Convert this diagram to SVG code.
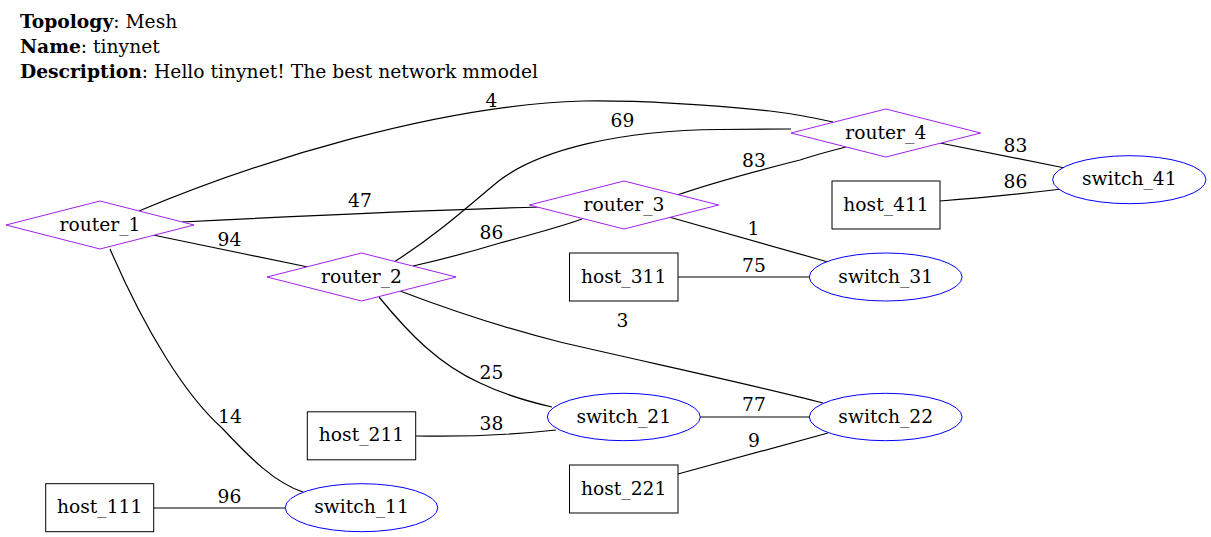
<svg xmlns="http://www.w3.org/2000/svg" width="1211" height="537" viewBox="0 0 1211 537">
<style>
text{font-family:"DejaVu Serif",serif;font-size:18.7px;fill:#000}
.t{text-anchor:middle}
.router polygon{fill:#fff;stroke:#a020f0;stroke-width:1}
.switch ellipse{fill:#fff;stroke:#0000ff;stroke-width:1}
.host rect{fill:#fff;stroke:#000;stroke-width:1}
#edges path{fill:none;stroke:#000;stroke-width:1.2}
</style>
<rect width="1211" height="537" fill="#fff"/>
<g id="title">
<text x="20" y="28"><tspan font-weight="bold">Topology</tspan>: Mesh</text>
<text x="20" y="53"><tspan font-weight="bold">Name</tspan>: tinynet</text>
<text x="20" y="78"><tspan font-weight="bold">Description</tspan>: Hello tinynet! The best network mmodel</text>
</g>
<g id="edges">
<path d="M139,211 C260,160 440,105 583,101 C650,100 720,106 770,111 C795,114 815,118 833,122"/>
<path d="M182,222 C300,216 430,210 541,207"/>
<path d="M153,235 L308,267"/>
<path d="M110,249 C145,330 185,395 222,428 C250,458 275,483 303,492"/>
<path d="M394,262 C440,233 475,200 500,180 C540,150 620,130 720,129.5 L791,129"/>
<path d="M413,266 C440,260 470,252 500,243 C530,235 560,227 582,219"/>
<path d="M379,297 C410,335 440,365 480,383 C505,395 530,402 552,407"/>
<path d="M400,291 C450,310 500,327 560,342 C650,363 750,384 823,403"/>
<path d="M700,417 L809,417"/>
<path d="M416,436 C470,437 520,434 556,430"/>
<path d="M678,474 L828,433"/>
<path d="M154,508 L286,508"/>
<path d="M677,195 C715,182 760,170 800,160 C815,155 830,151 846,147"/>
<path d="M669,217 L828,262"/>
<path d="M678,277 L809,277"/>
<path d="M940,143 L1065,168"/>
<path d="M940,201 C980,198 1020,194 1062,189"/>
</g>
<g id="edge-labels">
<text class="t" x="491.5" y="107">4</text>
<text class="t" x="360" y="207">47</text>
<text class="t" x="229.5" y="246">94</text>
<text class="t" x="230" y="423">14</text>
<text class="t" x="622.5" y="127">69</text>
<text class="t" x="491.5" y="238.5">86</text>
<text class="t" x="491.5" y="378.5">25</text>
<text class="t" x="622.5" y="327">3</text>
<text class="t" x="754" y="411">77</text>
<text class="t" x="491.5" y="430">38</text>
<text class="t" x="754" y="447">9</text>
<text class="t" x="229.5" y="502.5">96</text>
<text class="t" x="754" y="167">83</text>
<text class="t" x="753.5" y="235">1</text>
<text class="t" x="754" y="272">75</text>
<text class="t" x="1015.5" y="152">83</text>
<text class="t" x="1015.5" y="188">86</text>
</g>
<g id="router_1" class="router"><polygon points="6,225 100,201 194,225 100,249"/><text class="t" x="100" y="230.5">router_1</text></g>
<g id="router_2" class="router"><polygon points="267,277 361.5,253 456,277 361.5,301"/><text class="t" x="361.5" y="282.5">router_2</text></g>
<g id="router_3" class="router"><polygon points="529.3,205 624,181 718.7,205 624,229"/><text class="t" x="624" y="210.5">router_3</text></g>
<g id="router_4" class="router"><polygon points="791,133 885.8,109 980.7,133 885.8,157"/><text class="t" x="885.8" y="138.5">router_4</text></g>
<g id="switch_41" class="switch"><ellipse cx="1129.3" cy="179.7" rx="76.7" ry="24"/><text class="t" x="1129.3" y="185.2">switch_41</text></g>
<g id="switch_31" class="switch"><ellipse cx="885.7" cy="277" rx="76.4" ry="24"/><text class="t" x="885.7" y="282.5">switch_31</text></g>
<g id="switch_21" class="switch"><ellipse cx="623.8" cy="417" rx="76.5" ry="23.7"/><text class="t" x="623.8" y="422.5">switch_21</text></g>
<g id="switch_22" class="switch"><ellipse cx="885.7" cy="417" rx="76.4" ry="23.7"/><text class="t" x="885.7" y="422.5">switch_22</text></g>
<g id="switch_11" class="switch"><ellipse cx="361.5" cy="507.7" rx="76.3" ry="24"/><text class="t" x="361.5" y="513.2">switch_11</text></g>
<g id="host_411" class="host"><rect x="832" y="181" width="108" height="48"/><text class="t" x="886" y="210.5">host_411</text></g>
<g id="host_311" class="host"><rect x="569.5" y="253" width="108.5" height="48"/><text class="t" x="623.7" y="282.5">host_311</text></g>
<g id="host_211" class="host"><rect x="307.3" y="411.8" width="108.4" height="48"/><text class="t" x="361.5" y="441.3">host_211</text></g>
<g id="host_221" class="host"><rect x="569.5" y="465" width="108.5" height="48"/><text class="t" x="623.7" y="494.5">host_221</text></g>
<g id="host_111" class="host"><rect x="45.7" y="483.7" width="108" height="48"/><text class="t" x="99.7" y="513.2">host_111</text></g>
</svg>
